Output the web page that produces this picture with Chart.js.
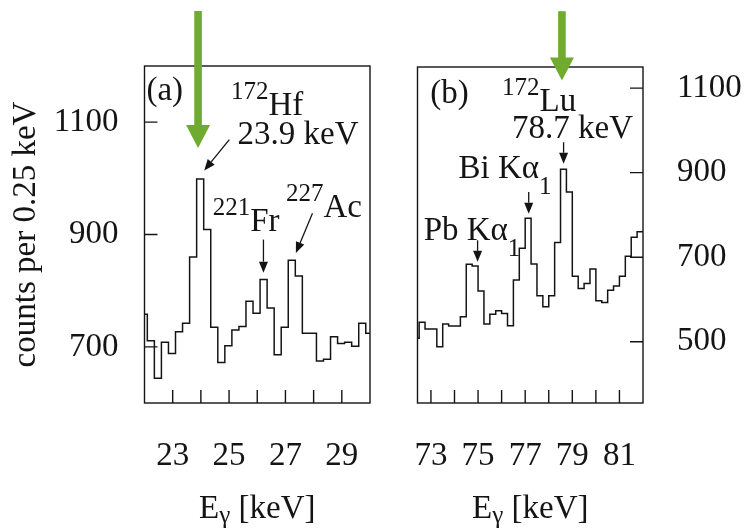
<!DOCTYPE html>
<html lang="en">
<head>
<meta charset="UTF-8">
<title>Gamma spectra</title>
<script src="https://cdn.jsdelivr.net/npm/chart.js"></script>
<style>
  body { margin: 0; background: #fff; }
  #wrap { position: relative; width: 744px; height: 530px; }
  #wrap canvas { position: absolute; left: 0; top: 0; }
</style>
</head>
<body>
<div id="wrap">
  <canvas id="chartA" width="744" height="530"></canvas>
  <canvas id="chartB" width="744" height="530"></canvas>
</div>
<script>
// panel (a): left bin edges [keV], last right edge, counts per 0.25 keV
const edgesA = [22, 22.1, 22.35, 22.6, 22.85, 23.1, 23.35, 23.6, 23.85, 24.1, 24.35, 24.6, 24.85,
  25.1, 25.35, 25.6, 25.85, 26.1, 26.35, 26.6, 26.85, 27.1, 27.35, 27.6, 27.85, 28.1, 28.35,
  28.6, 28.85, 29.1, 29.35, 29.6, 29.85];
const endA = 30;
const countsA = [758, 711, 644, 708, 688, 727, 742, 860, 999, 909, 735, 672, 702,
  730, 736, 781, 760, 820, 769, 686, 735, 854, 826, 724, 724, 675, 678,
  718, 706, 708, 701, 742, 724];

// panel (b)
const edgesB = [72.43, 72.5, 72.75, 73, 73.25, 73.5, 73.75, 74, 74.25, 74.5, 74.75, 75, 75.25,
  75.5, 75.75, 76, 76.25, 76.5, 76.75, 77, 77.25, 77.5, 77.75, 78, 78.25, 78.5, 78.75,
  79, 79.25, 79.5, 79.75, 80, 80.25, 80.5, 80.75, 81, 81.25, 81.5, 81.75];
const endB = 82;
const countsB = [508, 546, 530, 530, 488, 542, 537, 537, 559, 683, 679, 620, 542,
  565, 573, 567, 538, 646, 721, 792, 684, 609, 583, 609, 735, 908, 854,
  655, 626, 638, 672, 597, 593, 622, 632, 655, 702, 747, 760];

// ticks
const ticksXA = [23, 24, 25, 26, 27, 28, 29];
const labelsXA = [23, 25, 27, 29];
const ticksYA = [700, 900, 1100];
const ticksXB = [73, 74, 75, 76, 77, 78, 79, 80, 81];
const labelsXB = [73, 75, 77, 79, 81];
const ticksYB = [500, 700, 900, 1100];

// peak labels: [x keV, y counts, pieces]
const notesA = [
  [22.07, 1140, [['(a)']]],
  [25.07, 1113, [['172', 'sup'], ['Hf']]],
  [25.30, 1061, [['23.9 keV']]],
  [24.42, 906, [['221', 'sup'], ['Fr']]],
  [27.02, 932, [['227', 'sup'], ['Ac']]]
];
const arrowsA = [[25.01, 1069, 24.12, 1014], [26.22, 891, 26.22, 832], [27.96, 938, 27.37, 867]];
const notesB = [
  [72.97, 1066, [['(b)']]],
  [76.02, 1047, [['172', 'sup'], ['Lu']]],
  [76.44, 981, [['78.7 keV']]],
  [74.17, 887, [['Bi Kα'], ['1', 'sub']]],
  [72.69, 740, [['Pb Kα'], ['1', 'sub']]]
];
const arrowsB = [[78.63, 972, 78.63, 921], [77.15, 854, 77.15, 803], [74.98, 740, 74.98, 689]];
// green markers: [x keV, tail counts, tip counts]
const greenA = [23.90, 1298, 1054];
const greenB = [78.56, 1282, 1118];

const ink = '#141414';
const green = '#6eab2f';
const serif = "'Liberation Serif', 'Times New Roman', serif";
Chart.defaults.font.family = serif;
Chart.defaults.color = ink;

function drawParts(ctx, px, py, parts, size) {
  let cx = px;
  for (const [t, kind] of parts) {
    ctx.font = (kind ? 25 : size) + 'px ' + serif;
    const dy = kind === 'sup' ? -16 : kind === 'sub' ? 16 : 0;
    ctx.fillText(t, cx, py + dy);
    cx += ctx.measureText(t).width;
  }
  return cx - px;
}

function arrow(ctx, x1, y1, x2, y2) {
  const a = Math.atan2(y2 - y1, x2 - x1), L = 11, W = 4.5;
  const bx = x2 - L * Math.cos(a), by = y2 - L * Math.sin(a);
  ctx.beginPath(); ctx.moveTo(x1, y1); ctx.lineTo(bx, by); ctx.stroke();
  ctx.beginPath();
  ctx.moveTo(x2, y2);
  ctx.lineTo(bx + W * Math.sin(a), by - W * Math.cos(a));
  ctx.lineTo(bx - W * Math.sin(a), by + W * Math.cos(a));
  ctx.closePath(); ctx.fill();
}

const framePlugin = {
  id: 'frame',
  afterDatasetsDraw(chart, args, o) {
    const {ctx, chartArea: a, scales: {x, y}} = chart;
    ctx.save();
    ctx.strokeStyle = ink; ctx.fillStyle = ink; ctx.lineWidth = 1.4;
    ctx.strokeRect(a.left, a.top, a.right - a.left, a.bottom - a.top);
    // inward tick marks
    ctx.beginPath();
    o.xTicks.forEach(v => {
      const px = x.getPixelForValue(v);
      ctx.moveTo(px, a.bottom); ctx.lineTo(px, a.bottom - 13);
    });
    const edge = o.ySide === 'left' ? a.left : a.right;
    const dir = o.ySide === 'left' ? 13 : -13;
    o.yTicks.forEach(v => {
      const py = y.getPixelForValue(v);
      ctx.moveTo(edge, py); ctx.lineTo(edge + dir, py);
    });
    ctx.stroke();

    // peak labels and arrows
    ctx.textBaseline = 'alphabetic';
    ctx.textAlign = 'left';
    o.notes.forEach(([vx, vy, parts]) => {
      drawParts(ctx, x.getPixelForValue(vx), y.getPixelForValue(vy), parts, 33);
    });
    ctx.lineWidth = 1.3;
    o.arrows.forEach(([x1, y1, x2, y2]) => {
      arrow(ctx, x.getPixelForValue(x1), y.getPixelForValue(y1), x.getPixelForValue(x2), y.getPixelForValue(y2));
    });

    // axis title E_gamma [keV]
    const parts = [['E'], ['γ', 'sub'], [' [keV]']];
    let w = 0;
    parts.forEach(([t, k]) => { ctx.font = (k ? 25 : 33) + 'px ' + serif; w += ctx.measureText(t).width; });
    let cx = (a.left + a.right) / 2 - w / 2;
    const base = a.bottom + 115;
    parts.forEach(([t, k]) => {
      ctx.font = (k ? 25 : 33) + 'px ' + serif;
      ctx.fillText(t, cx, base + (k ? 5 : 0));
      cx += ctx.measureText(t).width;
    });

    // green pointer
    const [gx, gt, gp] = o.green;
    const px = x.getPixelForValue(gx), yt = y.getPixelForValue(gt), yp = y.getPixelForValue(gp);
    ctx.fillStyle = green;
    ctx.fillRect(px - 3.8, yt, 7.6, yp - 23 - yt + 1);
    ctx.beginPath();
    ctx.moveTo(px - 12, yp - 23); ctx.lineTo(px + 12, yp - 23); ctx.lineTo(px, yp);
    ctx.closePath(); ctx.fill();
    ctx.restore();
  }
};

function histPoints(edges, end, counts) {
  const pts = edges.map((e, i) => ({x: e, y: counts[i]}));
  pts.push({x: end, y: counts[counts.length - 1]});
  return pts;
}

function makePanel(id, cfg) {
  return new Chart(document.getElementById(id), {
    type: 'line',
    data: {
      datasets: [{
        data: histPoints(cfg.edges, cfg.end, cfg.counts),
        stepped: true,
        borderColor: ink,
        borderWidth: 1.5,
        pointRadius: 0,
        fill: false
      }]
    },
    plugins: [framePlugin],
    options: {
      responsive: false,
      animation: false,
      events: [],
      layout: {padding: cfg.padding},
      plugins: {
        legend: {display: false},
        tooltip: {enabled: false},
        frame: {xTicks: cfg.xTicks, yTicks: cfg.yTicks, ySide: cfg.ySide,
          notes: cfg.notes, arrows: cfg.arrows, green: cfg.green}
      },
      scales: {
        x: {
          type: 'linear', min: cfg.xMin, max: cfg.xMax,
          grid: {display: false, drawTicks: false},
          border: {display: false},
          afterBuildTicks: s => { s.ticks = cfg.xTicks.map(v => ({value: v})); },
          afterFit: s => { s.height = 80; },
          ticks: {
            autoSkip: false, maxRotation: 0, padding: 34,
            font: {size: 33}, color: ink,
            callback: v => cfg.xLabels.includes(v) ? String(v) : ''
          }
        },
        y: {
          type: 'linear', min: cfg.yMin, max: cfg.yMax, position: cfg.ySide,
          grid: {display: false, drawTicks: false},
          border: {display: false},
          afterBuildTicks: s => { s.ticks = cfg.yTicks.map(v => ({value: v})); },
          afterFit: s => { s.width = cfg.yWidth; },
          ticks: {padding: cfg.yPad, font: {size: 33}, color: ink, callback: v => String(v)},
          title: cfg.yTitle ? {display: true, text: cfg.yTitle, color: ink,
            font: {size: 33}, padding: {top: 7, bottom: 0}} : {display: false}
        }
      }
    }
  });
}

makePanel('chartA', {
  edges: edgesA, end: endA, counts: countsA,
  xMin: 22, xMax: 30, yMin: 600, yMax: 1200,
  xTicks: ticksXA, xLabels: labelsXA, yTicks: ticksYA, ySide: 'left',
  yWidth: 144.5, yPad: 26, yTitle: 'counts per 0.25 keV',
  padding: {left: 0, right: 374, top: 66, bottom: 47},
  notes: notesA, arrows: arrowsA, green: greenA
});

makePanel('chartB', {
  edges: edgesB, end: endB, counts: countsB,
  xMin: 72.43, xMax: 82, yMin: 355, yMax: 1150,
  xTicks: ticksXB, xLabels: labelsXB, yTicks: ticksYB, ySide: 'right',
  yWidth: 101, yPad: 34, yTitle: null,
  padding: {left: 417.5, right: 0, top: 67, bottom: 47},
  notes: notesB, arrows: arrowsB, green: greenB
});
</script>
</body>
</html>
